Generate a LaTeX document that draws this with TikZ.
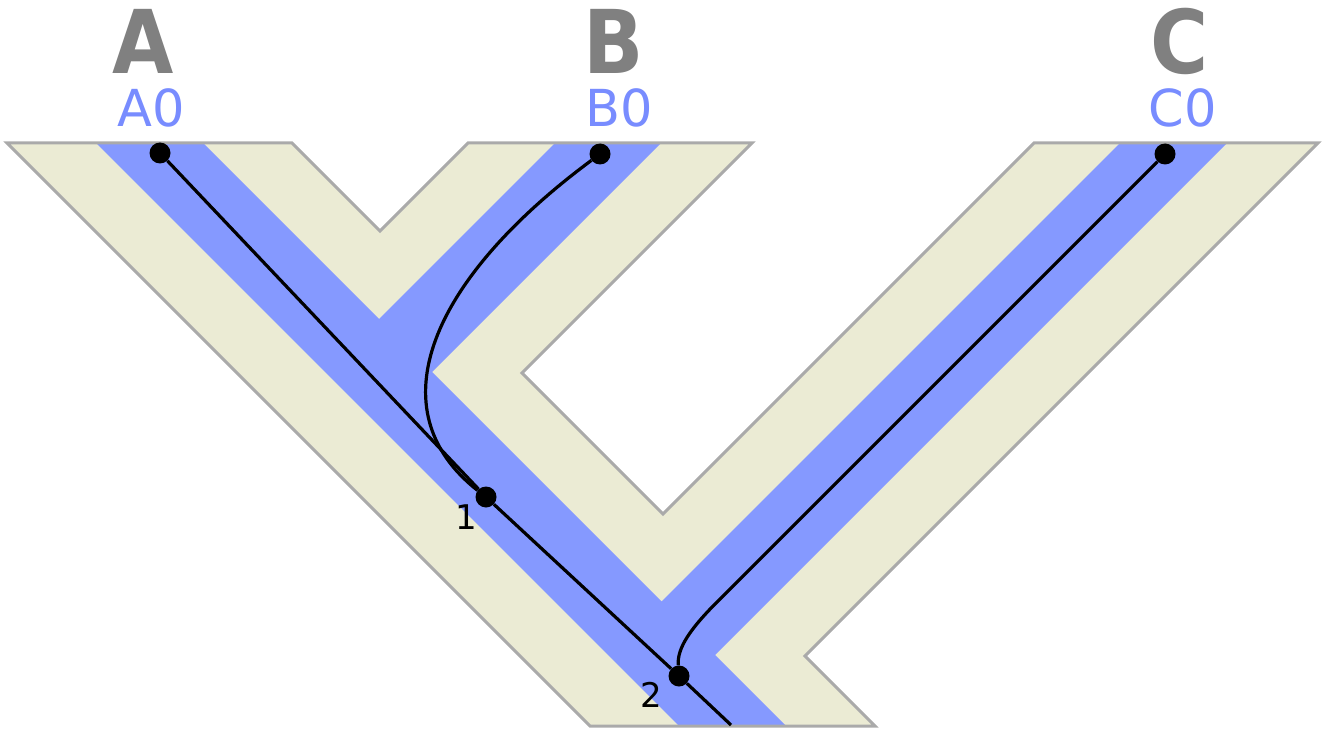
\documentclass[tikz,border=0pt]{standalone}
\usepackage{fontspec}
\setmainfont{DejaVu Sans}
\newfontfamily\speciesfont{DejaVu Sans}[FakeStretch=0.9]
\definecolor{beige}{RGB}{235,235,212}
\definecolor{bandblue}{RGB}{133,153,255}
\definecolor{labblue}{RGB}{120,140,255}
\definecolor{letgray}{RGB}{128,128,128}
\definecolor{edgegray}{RGB}{170,170,170}
\begin{document}
\begin{tikzpicture}[x=1pt,y=-1pt,
  dot/.style={circle,fill=black,inner sep=0pt,minimum size=21pt},
  gene/.style={line width=3.2pt,draw=black},
  sp/.style={font=\speciesfont\fontsize{88}{88}\bfseries\selectfont,text=letgray,anchor=base,inner sep=0pt,text height=64pt,text depth=0pt},
  lab/.style={font=\fontsize{51}{51}\selectfont,text=labblue,anchor=base,inner sep=0pt,text height=37pt,text depth=0pt},
  num/.style={font=\fontsize{34}{34}\selectfont,text=black,anchor=base,inner sep=0pt,text height=25pt,text depth=0pt}]
\useasboundingbox (0,0) rectangle (1329,730);
% species tree body
\fill[beige] (7,143) -- (292,143) -- (380,231) -- (468,143) -- (752,143) -- (522,373)
  -- (663,514) -- (1034,143) -- (1318,143) -- (805,656) -- (875,726) -- (590,726) -- cycle;
% inner band
\fill[bandblue] (96,143) -- (679,726) -- (786,726) -- (715,655) -- (1227,143) -- (1120,143)
  -- (661.5,601.5) -- (432,372) -- (661,143) -- (555,143) -- (379,319) -- (203,143) -- cycle;
% outline
\draw[edgegray,line width=3pt,line join=miter] (7,143) -- (292,143) -- (380,231) -- (468,143) -- (752,143) -- (522,373)
  -- (663,514) -- (1034,143) -- (1318,143) -- (805,656) -- (875,726) -- (590,726) -- cycle;
% labels
\node[sp] (A) at (143.5,74) {A};
\node[sp] (B) at (614,74) {B};
\node[sp] (C) at (1180,74) {C};
\node[lab] (A0) at (151,127) {A0};
\node[lab] (B0) at (619.5,127) {B0};
\node[lab] (C0) at (1182.5,127) {C0};
% gene tree nodes
\node[dot] (a0) at (160,153) {};
\node[dot] (b0) at (600,154) {};
\node[dot] (c0) at (1165,154) {};
\node[dot] (n1) at (486,497) {};
\node[dot] (n2) at (679,676) {};
\coordinate (aend) at (731,725);
\coordinate (cb) at (718,601);
\node[num] (l1) at (466.5,529) {1};
\node[num] (l2) at (651,707) {2};
% gene tree edges
\draw[gene] (a0) -- (n1);
\draw[gene] (n1) -- (n2);
\draw[gene] (n2) -- (aend);
\draw[gene] (b0) .. controls (430,280) and (375,410) .. (n1);
\draw[gene] (c0) -- (cb) .. controls (690,629) and (677,648) .. (n2);
\end{tikzpicture}
\end{document}
